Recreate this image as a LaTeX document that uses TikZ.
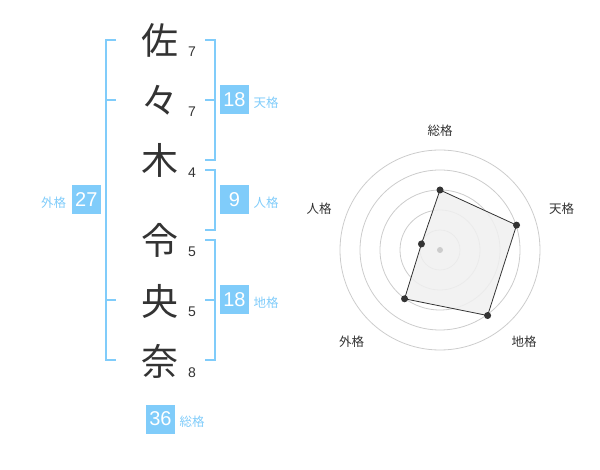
\documentclass[tikz,border=0pt]{standalone}
\usepackage{fontspec}
\setmainfont{Liberation Sans}
\newfontfamily\jp{Noto Sans CJK JP}
\definecolor{sky}{RGB}{128,204,250}
\definecolor{ink}{RGB}{51,51,51}
\definecolor{ringc}{RGB}{204,204,204}
\definecolor{polyfill}{RGB}{240,240,240}
\tikzset{
  kanji/.style={font=\jp\fontsize{37}{37}\selectfont, text=ink, inner sep=0pt},
  strokenum/.style={font=\fontsize{14}{14}\selectfont, text=ink, inner sep=0pt},
  valbox/.style={fill=sky, text=white, minimum width=29pt, minimum height=29pt, inner sep=0pt, font=\fontsize{20}{20}\selectfont},
  vallab/.style={font=\jp\fontsize{12.5}{12.5}\selectfont, text=sky, inner sep=0pt},
  bracketline/.style={draw=sky, line width=2pt},
  ring/.style={draw=ringc, line width=0.8pt},
  radarlab/.style={font=\jp\fontsize{12.5}{12.5}\selectfont, text=ink, inner sep=0pt},
  radardot/.style={circle, fill=ink, inner sep=0pt, minimum size=7pt},
}
\begin{document}
\begin{tikzpicture}[x=1pt,y=-1pt]
\useasboundingbox (0,0) rectangle (600,470);
% kanji
\node[kanji] (k1) at (160,40) {佐};
\node[kanji] (k2) at (160,100) {々};
\node[kanji] (k3) at (160,160) {木};
\node[kanji] (k4) at (160,240) {令};
\node[kanji] (k5) at (160,301) {央};
\node[kanji] (k6) at (160,361) {奈};
% stroke numbers
\node[strokenum] (s1) at (192,52) {7};
\node[strokenum] (s2) at (192,112) {7};
\node[strokenum] (s3) at (192,173) {4};
\node[strokenum] (s4) at (192,252) {5};
\node[strokenum] (s5) at (192,312) {5};
\node[strokenum] (s6) at (192,373) {8};
% brackets
\draw[bracketline] (116,40) -- (106,40) -- (106,360) -- (116,360);
\draw[bracketline] (106,100) -- (116,100);
\draw[bracketline] (106,300) -- (116,300);
\draw[bracketline] (205,40) -- (215,40) -- (215,160) -- (205,160);
\draw[bracketline] (205,100) -- (215,100);
\draw[bracketline] (205,170) -- (215,170) -- (215,230) -- (205,230);
\draw[bracketline] (205,240) -- (215,240) -- (215,360) -- (205,360);
\draw[bracketline] (205,300) -- (215,300);
% value boxes
\node[valbox] (b1) at (234.5,100) {18};
\node[vallab] (l1) at (266,103) {天格};
\node[valbox] (b2) at (234.5,200) {9};
\node[vallab] (l2) at (266,203) {人格};
\node[valbox] (b3) at (234.5,300) {18};
\node[vallab] (l3) at (266,303) {地格};
\node[valbox] (b4) at (86.3,200) {27};
\node[vallab] (l4) at (53.5,203) {外格};
\node[valbox] (b5) at (160.5,419) {36};
\node[vallab] (l5) at (192,422) {総格};
% radar
\coordinate (c) at (440,250);
\foreach \r in {20,40,60,80,100} \draw[ring] (c) circle[radius=\r];
\coordinate (q1) at ([shift={(-90:60)}]c);
\coordinate (q2) at ([shift={(-18:80.5)}]c);
\coordinate (q3) at ([shift={(54:81)}]c);
\coordinate (q4) at ([shift={(126:60.3)}]c);
\coordinate (q5) at ([shift={(198:19.5)}]c);
\draw[fill=polyfill, fill opacity=0.85, draw=ink, line width=0.8pt] (q1) -- (q2) -- (q3) -- (q4) -- (q5) -- cycle;
\node[circle, fill=ringc, inner sep=0pt, minimum size=6pt] (cd) at (c) {};
\node[radardot] (p1) at (q1) {};
\node[radardot] (p2) at (q2) {};
\node[radardot] (p3) at (q3) {};
\node[radardot] (p4) at (q4) {};
\node[radardot] (p5) at (q5) {};
\node[radarlab] (r1) at (440,130.5) {総格};
\node[radarlab] (r2) at (561.7,208.5) {天格};
\node[radarlab] (r3) at (524,342) {地格};
\node[radarlab] (r4) at (351.7,342) {外格};
\node[radarlab] (r5) at (319,208.5) {人格};
\end{tikzpicture}
\end{document}
